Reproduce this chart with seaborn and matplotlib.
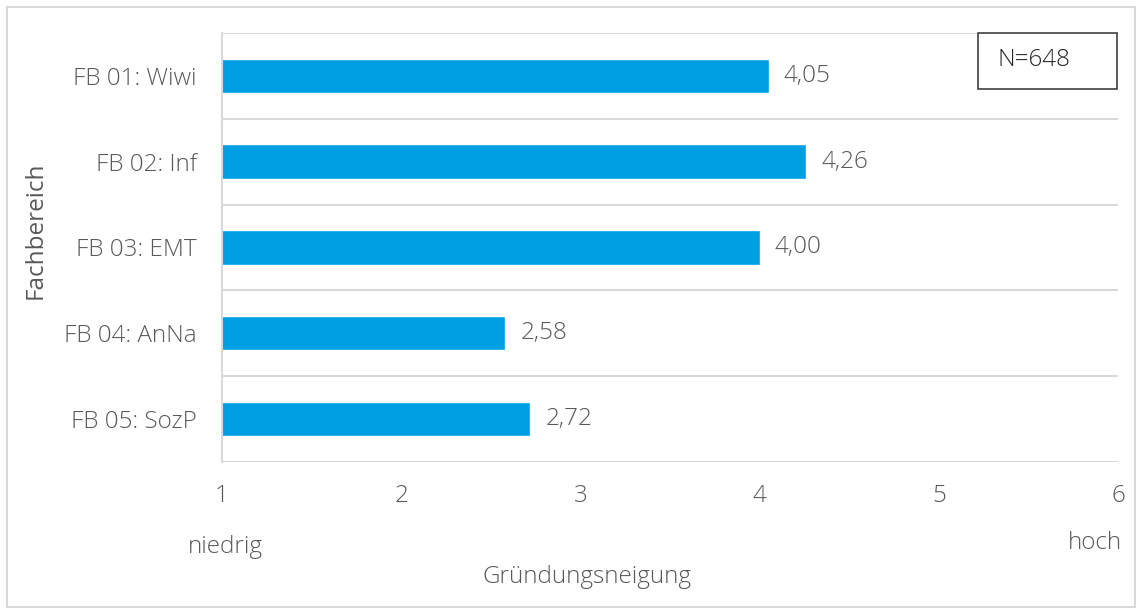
import matplotlib
matplotlib.use("Agg")
import matplotlib.pyplot as plt
import seaborn as sns
import pandas as pd
from matplotlib.patches import Rectangle

# Data
fachbereiche = ["FB 01: Wiwi", "FB 02: Inf", "FB 03: EMT", "FB 04: AnNa", "FB 05: SozP"]
neigung = [4.05, 4.26, 4.00, 2.58, 2.72]
x_ticks = [1, 2, 3, 4, 5, 6]

df = pd.DataFrame({"Fachbereich": fachbereiche, "Neigung": neigung})

sns.set_theme(style="white")
plt.rcParams["font.family"] = ["Open Sans", "DejaVu Sans"]
plt.rcParams["font.weight"] = "light"

text_color = "#595959"
grid_color = "#d9d9d9"
bar_color = "#009fe3"
fs = 17.5

fig = plt.figure(figsize=(11.38, 6.08), dpi=100)
ax = fig.add_axes([0.195, 0.240, 0.7875, 0.706])

sns.barplot(data=df, x="Neigung", y="Fachbereich", orient="h", color=bar_color,
            saturation=1, width=0.4, ax=ax)

ax.set_xlim(1, 6)
ax.set_ylim(4.5, -0.5)
ax.set_xticks(x_ticks)
ax.set_xticklabels([str(t) for t in x_ticks])
ax.set_yticks(range(len(fachbereiche)), minor=False)
ax.set_yticks([i - 0.5 for i in range(len(fachbereiche) + 1)], minor=True)
ax.grid(axis="y", which="minor", color=grid_color, linewidth=1.5)
ax.tick_params(axis="both", which="both", length=0, colors=text_color, labelsize=fs)
ax.tick_params(axis="x", pad=16)
ax.tick_params(axis="y", pad=18)

for side in ["top", "right", "bottom"]:
    ax.spines[side].set_visible(False)
ax.spines["left"].set_color(grid_color)
ax.spines["left"].set_linewidth(1.5)

labels = [f"{v:.2f}".replace(".", ",") for v in neigung]
ax.bar_label(ax.containers[0], labels=labels, padding=11, fontsize=fs, color=text_color)

ax.set_xlabel("")
ax.set_ylabel("Fachbereich", fontsize=fs, color=text_color)
ax.yaxis.set_label_coords(-0.195, 0.54)

fig.text(587 / 1138, 1 - 577 / 608, "Gründungsneigung", ha="center", va="center",
         fontsize=fs, color=text_color)
fig.text(225 / 1138, 1 - 547 / 608, "niedrig", ha="center", va="center",
         fontsize=fs, color=text_color)
fig.text(1095 / 1138, 1 - 543 / 608, "hoch", ha="center", va="center",
         fontsize=fs, color=text_color)

# N box
ax.add_patch(Rectangle((0.844, 0.869), 0.155, 0.131, transform=ax.transAxes,
                       facecolor="white", edgecolor="#404040", linewidth=1.2,
                       clip_on=False, zorder=5))
ax.text(0.865, 0.937, "N=648", transform=ax.transAxes, ha="left", va="center",
        fontsize=fs, color="#262626", zorder=6)

# outer frame
fig.patches.append(Rectangle((7 / 1138, 0.002), 1 - 10 / 1138, 1 - 7 / 608 - 0.002,
                             transform=fig.transFigure, fill=False,
                             edgecolor=grid_color, linewidth=1.5))

fig.savefig("out.png", dpi=100)
